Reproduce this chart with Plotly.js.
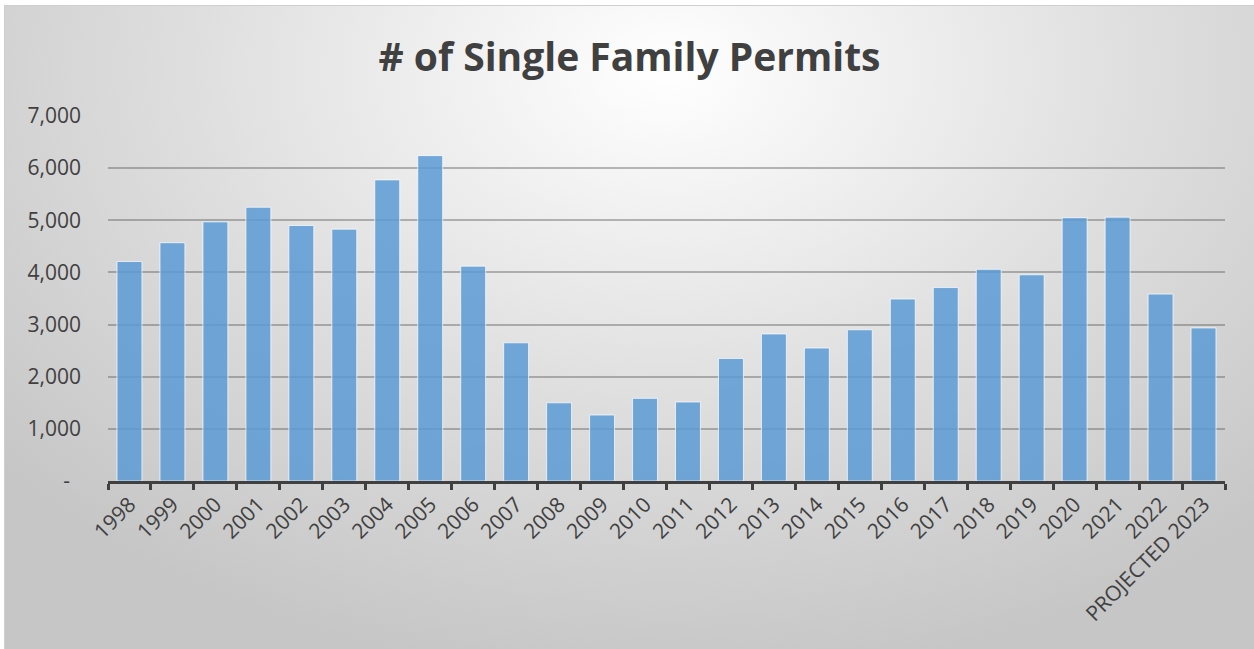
<!DOCTYPE html>
<html>
<head>
<meta charset="utf-8">
<script src="https://cdn.plot.ly/plotly-3.0.1.min.js"></script>
<style>
  html, body { margin: 0; padding: 0; background: #ffffff; }
  #wrap {
    position: absolute; left: 4px; top: 5px; width: 1250px; height: 644px;
    background: radial-gradient(ellipse 70% 95% at 53% 10%, #ffffff 0%, #f0f0f0 25%, #dedede 55%, #c6c6c6 100%);
    border-top: 1px solid #cfcfcf; border-left: 1px solid #cfcfcf;
    box-sizing: border-box;
  }
  #chart { width: 1249px; height: 643px; }
</style>
</head>
<body>
<div id="wrap"><div id="chart"></div></div>
<script>
const years = ["1998","1999","2000","2001","2002","2003","2004","2005","2006","2007","2008","2009","2010","2011","2012","2013","2014","2015","2016","2017","2018","2019","2020","2021","2022","PROJECTED 2023"];
const permits = [4210,4570,4970,5250,4900,4830,5775,6240,4120,2650,1500,1265,1585,1515,2350,2820,2550,2900,3490,3710,4060,3955,5050,5060,3585,2935];
const yTickVals = [0,1000,2000,3000,4000,5000,6000,7000];
const yTickText = ["-\u00a0\u00a0","1,000","2,000","3,000","4,000","5,000","6,000","7,000"];

const trace = {
  type: "bar",
  x: years,
  y: permits,
  marker: {
    color: "rgba(91,155,213,0.85)",
    line: { color: "rgba(255,255,255,0.7)", width: 1 }
  },
  hoverinfo: "x+y"
};

const layout = {
  width: 1249, height: 643,
  paper_bgcolor: "rgba(0,0,0,0)",
  plot_bgcolor: "rgba(0,0,0,0)",
  margin: { l: 103, r: 29, t: 110, b: 168 },
  bargap: 0.42,
  showlegend: false,
  title: {
    text: "# of Single Family Permits",
    font: { family: "Open Sans, sans-serif", size: 39, color: "#404040", weight: 700 },
    x: 0.5, xanchor: "center", xref: "container",
    y: 0.92, yanchor: "middle", yref: "container"
  },
  xaxis: {
    type: "category",
    tickangle: -45,
    tickfont: { family: "Open Sans, sans-serif", size: 21, color: "#404040" },
    showline: true, linecolor: "#404040", linewidth: 3,
    ticks: "outside", ticklen: 6, tickwidth: 3, tickcolor: "#404040",
    tickson: "boundaries",
    showgrid: false,
    fixedrange: true
  },
  yaxis: {
    range: [0, 7000],
    tickvals: yTickVals,
    ticktext: yTickText,
    tickfont: { family: "Open Sans, sans-serif", size: 21, color: "#404040" },
    showgrid: true, gridcolor: "rgba(90,90,90,0.42)", gridwidth: 2,
    zeroline: false, showline: false,
    ticks: "", ticklabelstandoff: 26,
    fixedrange: true
  }
};

Plotly.newPlot("chart", [trace], layout, { displayModeBar: false, staticPlot: true });
</script>
</body>
</html>
